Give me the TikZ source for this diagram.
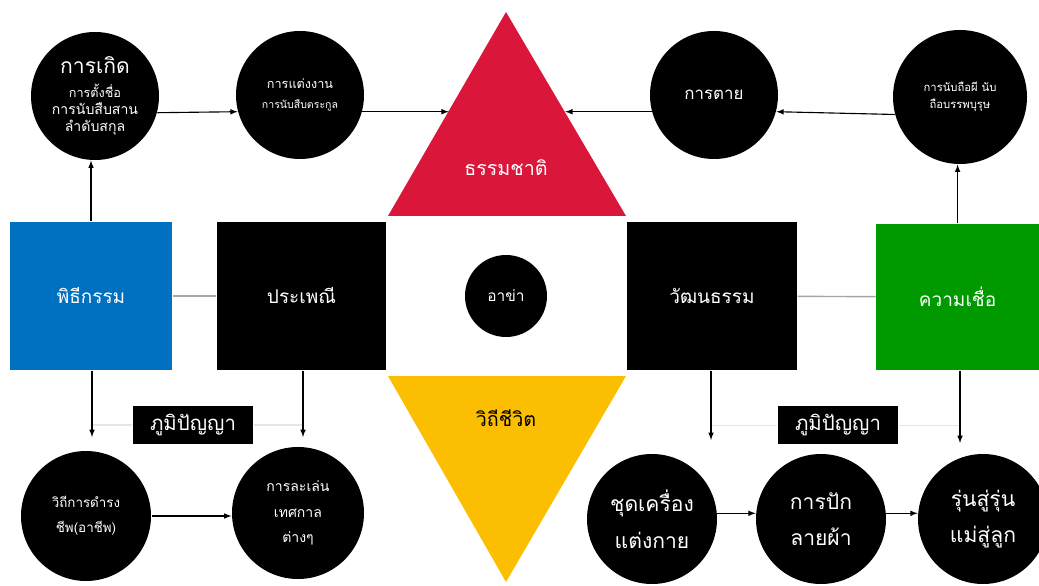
\documentclass[tikz,border=0pt]{standalone}
\usepackage{fontspec}
\newfontfamily\thaifont[Script=Thai]{Loma}
\usepackage{xcolor}
\usetikzlibrary{calc}
\definecolor{ritualblue}{RGB}{0,112,192}
\definecolor{beliefgreen}{RGB}{0,153,0}
\definecolor{naturered}{RGB}{218,22,58}
\definecolor{lifeyellow}{RGB}{252,190,0}

\begin{document}
\begin{tikzpicture}[>=latex, line width=0.8pt,
	circ/.style={circle, fill=black, text=white, inner sep=0pt, minimum size=3.2cm, align=center, font=\thaifont},
	sq/.style={rectangle, text=white, inner sep=0pt, minimum height=3.7cm, font=\thaifont\fontsize{13.5}{17}\selectfont},
	wisebox/.style={rectangle, fill=black, text=white, minimum width=3cm, minimum height=0.95cm, font=\thaifont\fontsize{14.5}{17}\selectfont},
	midline/.style={draw=gray!70, line width=1pt},
	faint/.style={draw=gray!20, line width=1.2pt}]
	\useasboundingbox (0,0) rectangle (25.975,14.625);
	%triangles
	\fill[naturered] (12.65,14.325) -- (9.7,9.225) -- (15.65,9.225) -- cycle;
	\fill[lifeyellow] (9.7,5.225) -- (15.65,5.225) -- (12.65,0.075) -- cycle;
	\node[text=white, font=\thaifont\fontsize{14}{17}\selectfont] (nature) at (12.65,10.425) {ธรรมชาติ};
	\node[text=black, font=\thaifont\fontsize{14}{17}\selectfont] (life) at (12.65,4.175) {วิถีชีวิต};
	%squares
	\node[sq, fill=ritualblue, minimum width=4.05cm] (ritual) at (2.275,7.225) {พิธีกรรม};
	\node[sq, fill=black, minimum width=4.225cm] (custom) at (7.5375,7.225) {ประเพณี};
	\node[sq, fill=black, minimum width=4.25cm] (culture) at (17.8,7.225) {วัฒนธรรม};
	\node[sq, fill=beliefgreen, minimum width=4.075cm, minimum height=3.65cm] (belief) at (23.94,7.2) {ความเชื่อ};
	\node[circ, minimum size=2.05cm, font=\thaifont\fontsize{11}{14}\selectfont] (akha) at (12.65,7.225) {อาข่า};
	%top circles
	\node[circ] (birth) at (2.375,12.225) {\fontsize{15}{18}\selectfont การเกิด\\[5pt]\fontsize{9}{13.5}\selectfont การตั้งชื่อ\\การนับสืบสาน\\ลำดับสกุล};
	\node[circ] (wedding) at (7.5,12.25) {\fontsize{9}{13.5}\selectfont การแต่งงาน\\[2pt]\fontsize{7.5}{13.5}\selectfont การนับสืบตระกูล};
	\node[circ, font=\thaifont\fontsize{12}{15}\selectfont] (death) at (17.85,12.25) {การตาย};
	\node[circ, minimum size=3.35cm, font=\thaifont\fontsize{8}{12}\selectfont] (ghost) at (24.0,12.2) {การนับถือผี นับ\\ถือบรรพบุรุษ};
	%bottom circles
	\node[circ, minimum size=3.25cm, font=\thaifont\fontsize{9.5}{18}\selectfont] (living) at (2.15,1.725) {วิถีการดำรง\\ชีพ(อาชีพ)};
	\node[circ, minimum size=3.3cm, font=\thaifont\fontsize{10}{18}\selectfont] (play) at (7.45,1.8) {การละเล่น\\เทศกาล\\ต่างๆ};
	\node[circ, minimum size=3.25cm, font=\thaifont\fontsize{15}{26}\selectfont] (dress) at (16.3,1.65) {ชุดเครื่อง\\แต่งกาย};
	\node[circ, minimum size=3.25cm, font=\thaifont\fontsize{15}{26}\selectfont] (embroid) at (20.525,1.65) {การปัก\\ลายผ้า};
	\node[circ, minimum size=3.25cm, font=\thaifont\fontsize{15}{26}\selectfont] (gen) at (24.575,1.65) {รุ่นสู่รุ่น\\แม่สู่ลูก};
	%wisdom boxes
	\node[wisebox] (wisdomL) at (4.825,4.0) {ภูมิปัญญา};
	\node[wisebox] (wisdomR) at (20.95,3.99) {ภูมิปัญญา};
	%arrow ends
	\coordinate (natL) at (11.22,11.8);
	\coordinate (natR) at (14.13,11.85);
	\coordinate (ritualEnd) at (2.3,3.7);
	\coordinate (customEnd) at (7.575,3.7);
	\coordinate (cultureEnd) at (17.775,3.625);
	\coordinate (beliefEnd) at (24.0,3.55);
	%top row
	\draw[->] (birth.-15) -- (wedding.195);
	\draw[->] (wedding.-15) -- (wedding.-15 -| natL);
	\draw[->] (ghost.195) -- (death.-15);
	\draw[->] (death.195) -- (death.195 -| natR);
	\draw[->] (ritual.north) -- (ritual.north |- birth.south);
	\draw[->] (belief.north) -- (belief.north |- ghost.south);
	%middle row
	\draw[midline] (ritual) -- (custom);
	\draw[midline] (culture) -- (belief);
	%bottom row
	\draw[faint] (ritualEnd |- wisdomL) -- (wisdomL.west);
	\draw[faint] (wisdomL.east) -- (customEnd |- wisdomL);
	\draw[faint] (cultureEnd |- wisdomR) -- (wisdomR.west);
	\draw[faint] (wisdomR.east) -- (beliefEnd |- wisdomR);
	\draw[->] (ritualEnd |- ritual.south) -- (ritualEnd);
	\draw[->] (customEnd |- custom.south) -- (customEnd);
	\draw[->] (cultureEnd |- culture.south) -- (cultureEnd);
	\draw[->] (beliefEnd |- belief.south) -- (beliefEnd);
	\draw[->] (living.east) -- (living.east -| play.west);
	\draw[->] (dress.5) -- (embroid.175);
	\draw[->] (embroid.5) -- (gen.175);
\end{tikzpicture}
\end{document}
